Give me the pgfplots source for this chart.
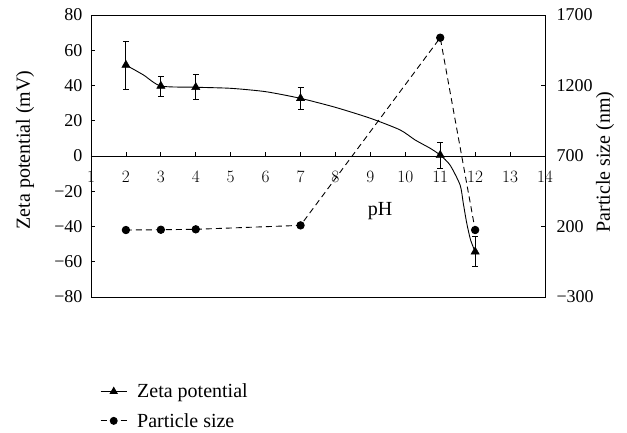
\documentclass[border=0pt]{standalone}
\usepackage{pgfplots}
\pgfplotsset{compat=1.18}
\usepackage{fontspec}
\setmainfont{Liberation Serif}

\newcommand{\chartfont}{\fontsize{18}{21}\selectfont}
\newcommand{\labelfont}{\fontsize{20}{23}\selectfont}

\pgfplotsset{
  common/.style={
    at={(0,0)}, anchor=south west,
    scale only axis, width=454pt, height=282pt,
    xmin=1, xmax=14,
    tick label style={font=\chartfont},
    label style={font=\labelfont},
    major tick length=4pt,
    tick style={black, line width=0.7pt},
    axis line style={line width=0.8pt},
  },
}

\begin{document}
\begin{tikzpicture}
\path[use as bounding box] (-91pt,-136pt) rectangle (536pt,297pt);

% left axis: zeta potential, x axis drawn through zero
\begin{axis}[
  common,
  ymin=-80, ymax=80,
  axis x line=middle, axis y line=left,
  axis line style={-},
  hide obscured x ticks=false,
  tick align=inside,
  xtick={1,2,...,14},
  ytick={-80,-60,-40,-20,0,20,40,60,80},
  yticklabels={−80,−60,−40,−20,0,20,40,60,80},
  xticklabel style={yshift=-12pt},
  yticklabel style={xshift=-5pt},
  ylabel={Zeta potential (mV)},
  ylabel style={at={(rel axis cs:-0.1454,0.521)}, anchor=center, font=\labelfont},
  xlabel={pH},
  xlabel style={at={(rel axis cs:0.6366,0.305)}, anchor=center, font=\labelfont},
  legend style={font=\labelfont, draw=none, fill=none,
    at={(rel axis cs:0.02,-0.30)}, anchor=north west,
    row sep=10pt, inner sep=0pt},
  legend cell align=left,
  legend image code/.code={
    \draw[mark repeat=2, mark phase=2, #1]
      plot coordinates {(0pt,0pt) (13pt,0pt) (26pt,0pt)};
    \path (34pt,0pt);
  },
]
% fitted trend line
\addplot[black, line width=0.9pt, smooth, tension=0.4, forget plot] coordinates {
  (2,51.6) (2.5,46) (3,39.7) (4,39) (5,38.4) (6,36.5) (7,32.7)
  (8,27.6) (9,21.4) (9.85,14.8) (10.28,9.1) (10.71,4.4) (11,0.5)
  (11.28,-5.1) (11.57,-16.5) (11.66,-26.8) (11.76,-38.2) (11.87,-47.7) (12,-54.3)
};
% measured values with error bars
\addplot[black, only marks, mark=triangle*, mark size=4.8pt, forget plot,
  error bars/.cd, y dir=both, y explicit,
  error bar style={line width=0.9pt},
  error mark options={black, mark size=3pt, line width=0.9pt, rotate=90}]
  coordinates {
  (2,51.6) +- (0,13.6)
  (3,39.7) +- (0,5.7)
  (4,39.0) +- (0,7.0)
  (7,32.7) +- (0,6.2)
  (11,0.5) +- (0,7.3)
  (12,-54.3) +- (0,8.5)
};
\addlegendimage{black, line width=0.9pt, mark=triangle*, mark size=4pt}
\addlegendentry{Zeta potential}
\addlegendimage{black, line width=0.9pt, dash pattern=on 6pt off 4pt,
  mark=*, mark size=3.5pt, mark options={solid}}
\addlegendentry{Particle size}
\end{axis}

% right axis: particle size
\begin{axis}[
  common,
  ymin=-300, ymax=1700,
  xtick=\empty,
  ytick={-300,200,700,1200,1700},
  yticklabels={−300,200,700,1200,1700},
  ytick pos=right, yticklabel pos=right,
  yticklabel style={xshift=8pt},
  tick align=inside,
  ylabel={Particle size (nm)},
  ylabel style={at={(rel axis cs:1.1322,0.479)}, anchor=center, font=\labelfont},
]
\addplot[black, line width=0.9pt, dash pattern=on 6pt off 4pt,
  mark=*, mark size=3.7pt, mark options={solid}] coordinates {
  (2,175) (3,177) (4,180) (7,208) (11,1539) (12,175)
};
\end{axis}
\end{tikzpicture}
\end{document}
